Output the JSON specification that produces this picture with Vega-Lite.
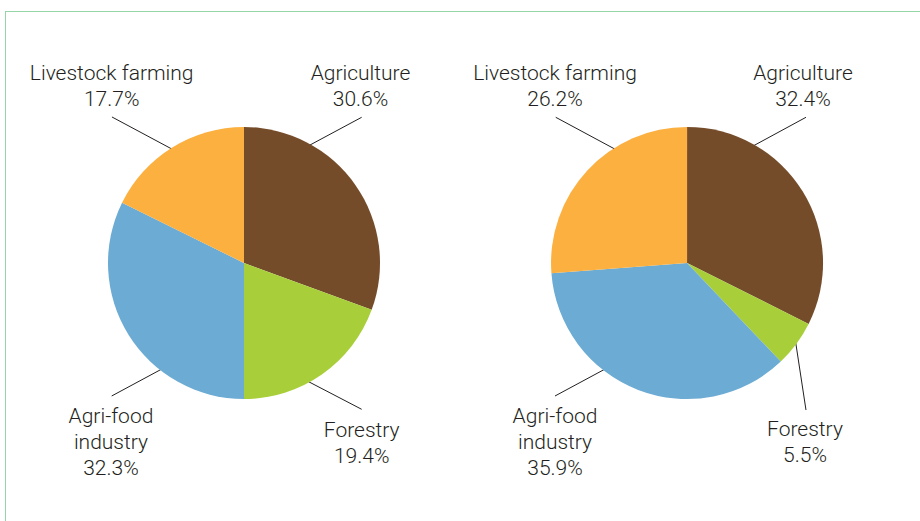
{
  "$schema": "https://vega.github.io/schema/vega-lite/v6.json",
  "width": 915,
  "height": 510,
  "autosize": {"type": "none"},
  "padding": {"left": 5, "top": 11, "right": 0, "bottom": 0},
  "background": "white",
  "config": {"view": {"stroke": null}},
  "datasets": {
    "slices": [
      {"chart": "left", "sector": "Agriculture", "share": 30.6, "order": 1},
      {"chart": "left", "sector": "Forestry", "share": 19.4, "order": 2},
      {"chart": "left", "sector": "Agri-food industry", "share": 32.3, "order": 3},
      {"chart": "left", "sector": "Livestock farming", "share": 17.7, "order": 4},
      {"chart": "right", "sector": "Agriculture", "share": 32.4, "order": 1},
      {"chart": "right", "sector": "Forestry", "share": 5.5, "order": 2},
      {"chart": "right", "sector": "Agri-food industry", "share": 35.9, "order": 3},
      {"chart": "right", "sector": "Livestock farming", "share": 26.2, "order": 4}
    ],
    "leaders": [
      {"chart": "left", "sector": "Livestock farming", "x1": 11.69, "y1": 79.22, "x2": 18.91, "y2": 72.29},
      {"chart": "left", "sector": "Agriculture", "x1": 38.98, "y1": 79.16, "x2": 32.46, "y2": 72.88},
      {"chart": "left", "sector": "Agri-food industry", "x1": 11.66, "y1": 24.51, "x2": 17.81, "y2": 30.45},
      {"chart": "left", "sector": "Forestry", "x1": 38.98, "y1": 21.9, "x2": 32.64, "y2": 27.82},
      {"chart": "right", "sector": "Livestock farming", "x1": 60.19, "y1": 79.16, "x2": 67.36, "y2": 72.24},
      {"chart": "right", "sector": "Agriculture", "x1": 87.54, "y1": 79.16, "x2": 81.09, "y2": 72.88},
      {"chart": "right", "sector": "Agri-food industry", "x1": 60.11, "y1": 24.51, "x2": 66.26, "y2": 30.45},
      {"chart": "right", "sector": "Forestry", "x1": 87.54, "y1": 21.76, "x2": 86.34, "y2": 35.88}
    ],
    "labels": [
      {"chart": "left", "label": "Livestock farming\n17.7%", "x": 11.66, "y": 86.47},
      {"chart": "left", "label": "Agriculture\n30.6%", "x": 38.85, "y": 86.47},
      {"chart": "left", "label": "Agri-food\nindustry\n32.3%", "x": 11.58, "y": 19.22},
      {"chart": "left", "label": "Forestry\n19.4%", "x": 38.98, "y": 16.53},
      {"chart": "right", "label": "Livestock farming\n26.2%", "x": 60.11, "y": 86.47},
      {"chart": "right", "label": "Agriculture\n32.4%", "x": 87.21, "y": 86.47},
      {"chart": "right", "label": "Agri-food\nindustry\n35.9%", "x": 60.11, "y": 19.22},
      {"chart": "right", "label": "Forestry\n5.5%", "x": 87.43, "y": 16.6}
    ]
  },
  "layer": [
    {
      "data": {"values": [{}]},
      "mark": {"type": "rule", "color": "#96d5a8", "strokeWidth": 1},
      "encoding": {
        "y": {"datum": 99.9, "type": "quantitative", "scale": {"domain": [0, 100], "nice": false, "zero": false}, "axis": null}
      }
    },
    {
      "data": {"values": [{}]},
      "mark": {"type": "rule", "color": "#96d5a8", "strokeWidth": 1},
      "encoding": {
        "x": {"datum": 0.055, "type": "quantitative", "scale": {"domain": [0, 100], "nice": false, "zero": false}, "axis": null}
      }
    },
    {
      "data": {"name": "leaders"},
      "mark": {"type": "rule", "color": "#231f20", "strokeWidth": 1},
      "encoding": {
        "x": {"field": "x1", "type": "quantitative", "scale": {"domain": [0, 100], "nice": false, "zero": false}, "axis": null},
        "y": {"field": "y1", "type": "quantitative", "scale": {"domain": [0, 100], "nice": false, "zero": false}, "axis": null},
        "x2": {"field": "x2"},
        "y2": {"field": "y2"}
      }
    },
    {
      "data": {"name": "slices"},
      "transform": [
        {"filter": "datum.chart === 'left'"},
        {"stack": "share", "groupby": ["chart"], "sort": [{"field": "order"}], "as": ["t0", "t1"]}
      ],
      "mark": {"type": "arc", "outerRadius": 136},
      "encoding": {
        "x": {"datum": 26.12, "type": "quantitative", "scale": {"domain": [0, 100], "nice": false, "zero": false}, "axis": null},
        "y": {"datum": 50.59, "type": "quantitative", "scale": {"domain": [0, 100], "nice": false, "zero": false}, "axis": null},
        "theta": {"field": "t0", "type": "quantitative", "scale": {"domain": [0, 100], "range": [0, 6.283185307]}},
        "theta2": {"field": "t1"},
        "color": {
          "field": "sector", "type": "nominal", "legend": null,
          "scale": {"domain": ["Agriculture", "Forestry", "Agri-food industry", "Livestock farming"], "range": ["#754c29", "#a8cf3a", "#6cabd3", "#fbb040"]}
        }
      }
    },
    {
      "data": {"name": "slices"},
      "transform": [
        {"filter": "datum.chart === 'right'"},
        {"stack": "share", "groupby": ["chart"], "sort": [{"field": "order"}], "as": ["t0", "t1"]}
      ],
      "mark": {"type": "arc", "outerRadius": 136},
      "encoding": {
        "x": {"datum": 74.54, "type": "quantitative", "scale": {"domain": [0, 100], "nice": false, "zero": false}, "axis": null},
        "y": {"datum": 50.59, "type": "quantitative", "scale": {"domain": [0, 100], "nice": false, "zero": false}, "axis": null},
        "theta": {"field": "t0", "type": "quantitative", "scale": {"domain": [0, 100], "range": [0, 6.283185307]}},
        "theta2": {"field": "t1"},
        "color": {
          "field": "sector", "type": "nominal", "legend": null,
          "scale": {"domain": ["Agriculture", "Forestry", "Agri-food industry", "Livestock farming"], "range": ["#754c29", "#a8cf3a", "#6cabd3", "#fbb040"]}
        }
      }
    },
    {
      "data": {"name": "labels"},
      "mark": {"type": "text", "font": "Roboto", "fontWeight": 300, "fontSize": 21, "color": "#231f20", "align": "center", "baseline": "alphabetic", "lineBreak": "\n", "lineHeight": 26},
      "encoding": {
        "x": {"field": "x", "type": "quantitative", "scale": {"domain": [0, 100], "nice": false, "zero": false}, "axis": null},
        "y": {"field": "y", "type": "quantitative", "scale": {"domain": [0, 100], "nice": false, "zero": false}, "axis": null},
        "text": {"field": "label", "type": "nominal"}
      }
    }
  ]
}
